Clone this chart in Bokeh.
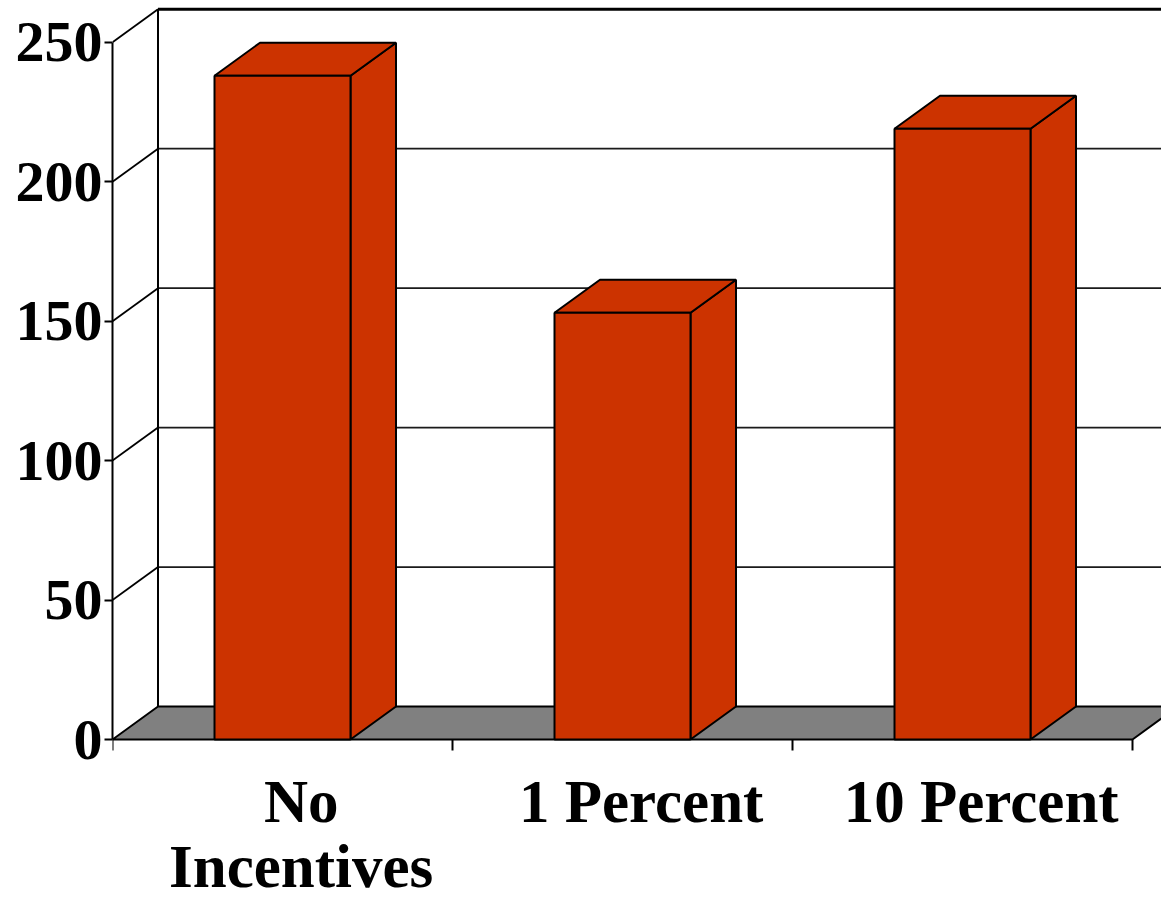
from bokeh.plotting import figure
from bokeh.models import Range1d, FixedTicker
from bokeh.core.properties import value
from bokeh.embed import file_html
from bokeh.resources import INLINE

# ---- data ----
categories = ["No\nIncentives", "1 Percent", "10 Percent"]
values = [238, 153, 219]
y_ticks = [0, 50, 100, 150, 200, 250]

# ---- styling / geometry ----
BAR_COLOR = "#CC3300"
FLOOR_COLOR = "#808080"
FONT = "Liberation Serif"
W, H = 1161, 903
LEFT = 112
PX_PER_CAT = 340.0
PX_PER_UNIT = 2.789
ZERO_PX = 739  # pixel row of value 0 (from top)
DXU = 45.5 / PX_PER_CAT      # depth offset in category units
DYU = 33.0 / PX_PER_UNIT     # depth offset in value units
YMAX = 250
LW = 2.0

x_end = (W - LEFT) / PX_PER_CAT
y_start = -(H - ZERO_PX) / PX_PER_UNIT
y_end = ZERO_PX / PX_PER_UNIT

p = figure(width=W, height=H, output_backend="svg", toolbar_location=None,
           x_range=Range1d(0, x_end), y_range=Range1d(y_start, y_end),
           x_axis_location=None, min_border_left=LEFT, min_border_right=0,
           min_border_top=0, min_border_bottom=0)
p.outline_line_color = None
p.xgrid.visible = False
p.ygrid.visible = False
p.background_fill_color = "white"
p.border_fill_color = "white"

ax = p.yaxis[0]
ax.ticker = FixedTicker(ticks=y_ticks)
ax.bounds = (0, YMAX)
ax.axis_line_color = "black"
ax.axis_line_width = LW
ax.major_tick_out = 8
ax.major_tick_in = 0
ax.major_tick_line_width = LW
ax.minor_tick_out = 0
ax.minor_tick_in = 0
ax.major_label_standoff = 2
ax.major_label_text_font = FONT
ax.major_label_text_font_style = "bold"
ax.major_label_text_font_size = "58px"
ax.major_label_text_color = "black"

n = len(categories)

# back wall gridlines
for t in y_ticks[1:-1]:
    p.segment(x0=DXU, y0=t + DYU, x1=x_end, y1=t + DYU, line_color="#1a1a1a", line_width=1.8)
# top edge of back wall
p.segment(x0=DXU, y0=YMAX + DYU, x1=x_end, y1=YMAX + DYU, line_color="black", line_width=2.8)
# left wall diagonals
for t in y_ticks[1:]:
    p.segment(x0=0, y0=t, x1=DXU, y1=t + DYU, line_color="black", line_width=1.8)
# back-left vertical edge
p.segment(x0=DXU, y0=DYU, x1=DXU, y1=YMAX + DYU, line_color="black", line_width=LW)

# floor
p.patch(x=[0, n, n + DXU, DXU], y=[0, 0, DYU, DYU], fill_color=FLOOR_COLOR,
        line_color="black", line_width=LW)

# x-axis ticks (category boundaries)
for i in range(n + 1):
    p.segment(x0=i, y0=0, x1=i, y1=-11 / PX_PER_UNIT, line_color="black", line_width=LW)

# bars
for i, v in enumerate(values):
    x0, x1 = i + 0.3, i + 0.7
    # side face
    p.patch(x=[x1, x1 + DXU, x1 + DXU, x1], y=[0, DYU, v + DYU, v],
            fill_color=BAR_COLOR, line_color="black", line_width=LW)
    # top face
    p.patch(x=[x0, x1, x1 + DXU, x0 + DXU], y=[v, v, v + DYU, v + DYU],
            fill_color=BAR_COLOR, line_color="black", line_width=LW)
    # front face
    p.quad(left=x0, right=x1, bottom=0, top=v,
           fill_color=BAR_COLOR, line_color="black", line_width=LW)

# category labels
base0 = -(801 - ZERO_PX) / PX_PER_UNIT
line_h = 65 / PX_PER_UNIT
for i, cat in enumerate(categories):
    for k, line in enumerate(cat.split("\n")):
        p.text(x=[i + 0.5 + 0.055], y=[base0 - k * line_h], text=[line],
               text_font=value(FONT), text_font_style="bold", text_font_size="61px",
               text_align="center", text_baseline="alphabetic", text_color="black")

open("out.html", "w").write(file_html(p, INLINE))
